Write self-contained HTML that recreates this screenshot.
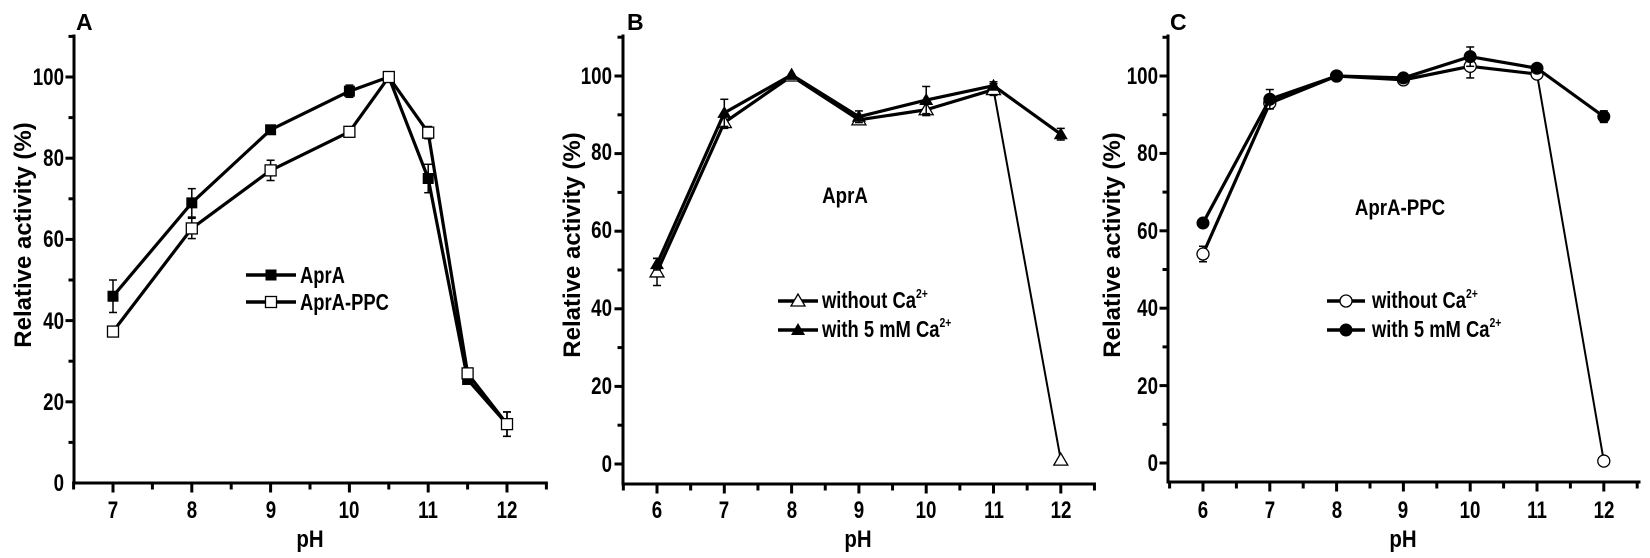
<!DOCTYPE html>
<html><head><meta charset="utf-8"><style>
html,body{margin:0;padding:0;background:#fff;}
svg{display:block;}
text{font-family:"Liberation Sans",sans-serif;font-weight:bold;fill:#000;}
.t{font-size:24px;}
.lab{font-size:24px;}
.leg{font-size:23px;}
</style></head><body>
<svg id="s" width="1650" height="558" viewBox="0 0 1650 558" xmlns="http://www.w3.org/2000/svg">
<text x="76" y="30" font-size="23">A</text>
<text x="627" y="30" font-size="23">B</text>
<text x="1170" y="30" font-size="23">C</text>

<g class="t" text-anchor="end">
<text transform="translate(64,491) scale(0.78,1)">0</text>
<text transform="translate(64,410) scale(0.78,1)">20</text>
<text transform="translate(64,329) scale(0.78,1)">40</text>
<text transform="translate(64,247) scale(0.78,1)">60</text>
<text transform="translate(64,166) scale(0.78,1)">80</text>
<text transform="translate(64,85) scale(0.78,1)">100</text>
</g>
<g class="t" text-anchor="middle">
<text transform="translate(113,518) scale(0.78,1)">7</text>
<text transform="translate(192,518) scale(0.78,1)">8</text>
<text transform="translate(271,518) scale(0.78,1)">9</text>
<text transform="translate(349,518) scale(0.78,1)">10</text>
<text transform="translate(428,518) scale(0.78,1)">11</text>
<text transform="translate(507,518) scale(0.78,1)">12</text>
</g>
<text class="lab" text-anchor="middle" transform="translate(310,547) scale(0.85,1)">pH</text>
<text class="lab" text-anchor="middle" transform="translate(31,235) rotate(-90)">Relative activity (%)</text>
<text class="leg" transform="translate(300,283) scale(0.8,1)">AprA</text>
<text class="leg" transform="translate(300,310) scale(0.8,1)">AprA-PPC</text>

<g class="t" text-anchor="end">
<text transform="translate(612,472) scale(0.78,1)">0</text>
<text transform="translate(612,394) scale(0.78,1)">20</text>
<text transform="translate(612,316) scale(0.78,1)">40</text>
<text transform="translate(612,238) scale(0.78,1)">60</text>
<text transform="translate(612,160) scale(0.78,1)">80</text>
<text transform="translate(612,84) scale(0.78,1)">100</text>
</g>
<g class="t" text-anchor="middle">
<text transform="translate(657,518) scale(0.78,1)">6</text>
<text transform="translate(724,518) scale(0.78,1)">7</text>
<text transform="translate(792,518) scale(0.78,1)">8</text>
<text transform="translate(859,518) scale(0.78,1)">9</text>
<text transform="translate(926,518) scale(0.78,1)">10</text>
<text transform="translate(994,518) scale(0.78,1)">11</text>
<text transform="translate(1061,518) scale(0.78,1)">12</text>
</g>
<text class="lab" text-anchor="middle" transform="translate(858,547) scale(0.85,1)">pH</text>
<text class="lab" text-anchor="middle" transform="translate(580,245) rotate(-90)">Relative activity (%)</text>
<text font-size="22" text-anchor="middle" transform="translate(845,203) scale(0.85,1)">AprA</text>
<text class="leg" transform="translate(822,308) scale(0.8,1)">without Ca<tspan font-size="13" dy="-10">2+</tspan></text>
<text class="leg" transform="translate(822,337) scale(0.8,1)">with 5 mM Ca<tspan font-size="13" dy="-10">2+</tspan></text>

<g class="t" text-anchor="end">
<text transform="translate(1158,471) scale(0.78,1)">0</text>
<text transform="translate(1158,394) scale(0.78,1)">20</text>
<text transform="translate(1158,316) scale(0.78,1)">40</text>
<text transform="translate(1158,239) scale(0.78,1)">60</text>
<text transform="translate(1158,161) scale(0.78,1)">80</text>
<text transform="translate(1158,84) scale(0.78,1)">100</text>
</g>
<g class="t" text-anchor="middle">
<text transform="translate(1203,518) scale(0.78,1)">6</text>
<text transform="translate(1270,518) scale(0.78,1)">7</text>
<text transform="translate(1337,518) scale(0.78,1)">8</text>
<text transform="translate(1403,518) scale(0.78,1)">9</text>
<text transform="translate(1470,518) scale(0.78,1)">10</text>
<text transform="translate(1537,518) scale(0.78,1)">11</text>
<text transform="translate(1604,518) scale(0.78,1)">12</text>
</g>
<text class="lab" text-anchor="middle" transform="translate(1403,547) scale(0.85,1)">pH</text>
<text class="lab" text-anchor="middle" transform="translate(1120,245) rotate(-90)">Relative activity (%)</text>
<text font-size="22" text-anchor="middle" transform="translate(1400,215) scale(0.85,1)">AprA-PPC</text>
<text class="leg" transform="translate(1372,308) scale(0.8,1)">without Ca<tspan font-size="13" dy="-10">2+</tspan></text>
<text class="leg" transform="translate(1372,337) scale(0.8,1)">with 5 mM Ca<tspan font-size="13" dy="-10">2+</tspan></text>
<g id="g"></g>
</svg>
<script>
const NS="http://www.w3.org/2000/svg";const G=document.getElementById('g');
function el(t,a){const e=document.createElementNS(NS,t);for(const k in a)e.setAttribute(k,a[k]);G.appendChild(e);return e;}
function line(x1,y1,x2,y2,w){el('line',{x1,y1,x2,y2,stroke:'#000','stroke-width':w||3,'stroke-linecap':'square'});}
function axes(P){
 line(P.ax,P.top,P.ax,P.bot,3);
 line(P.ax,P.bot,P.right,P.bot,3);
 for(let v=0;v<=110;v+=10){const y=P.Y(v);if(y>P.bot-1)continue;line(P.ax-(v%20==0?7:4),y,P.ax,y,3);}
 for(let x=P.xmin;x<=P.xmax+0.01;x+=0.5){const px=P.X(x);line(px,P.bot,px,P.bot+(Number.isInteger(x)?8:5),3);}
}
function marker(type,x,y){
 const s=5.5;
 if(type=='fs')el('rect',{x:x-s,y:y-s,width:2*s,height:2*s,fill:'#000'});
 if(type=='os')el('rect',{x:x-s,y:y-s,width:2*s,height:2*s,fill:'#fff',stroke:'#000','stroke-width':1.3});
 if(type=='ft')el('polygon',{points:`${x},${y-7} ${x-7},${y+5} ${x+7},${y+5}`,fill:'#000'});
 if(type=='ot')el('polygon',{points:`${x},${y-7} ${x-7},${y+5} ${x+7},${y+5}`,fill:'#fff',stroke:'#000','stroke-width':1.3});
 if(type=='fc')el('circle',{cx:x,cy:y,r:6.5,fill:'#000'});
 if(type=='oc')el('circle',{cx:x,cy:y,r:6,fill:'#fff',stroke:'#000','stroke-width':1.3});
}
function series(P,data,type,w){
 const pts=data.map(d=>[P.X(d[0]),P.Y(d[1])]);
 for(let i=0;i<pts.length-1;i++){
   const ww=(w&&w[i])||3.2;
   el('line',{x1:pts[i][0],y1:pts[i][1],x2:pts[i+1][0],y2:pts[i+1][1],stroke:'#000','stroke-width':ww});
 }
 data.forEach((d,i)=>{const e=d[2]||0;const [x,y]=pts[i];
   if(e){const y1=P.Y(d[1]+e),y2=P.Y(d[1]-e);
     el('line',{x1:x,y1:y1,x2:x,y2:y2,stroke:'#000','stroke-width':1.5});
     el('line',{x1:x-4,y1:y1,x2:x+4,y2:y1,stroke:'#000','stroke-width':1.5});
     el('line',{x1:x-4,y1:y2,x2:x+4,y2:y2,stroke:'#000','stroke-width':1.5});}
 });
 pts.forEach(p=>marker(type,p[0],p[1]));
}
function legend(x1,x2,y,type){el('line',{x1,y1:y,x2,y2:y,stroke:'#000','stroke-width':3.5});marker(type,(x1+x2)/2,y);}
const A={ax:74,top:36,bot:483,right:546,xmin:6.5,xmax:12.5,X:x=>113+(x-7)*78.8,Y:v=>483-v*4.06};
axes(A);
series(A,[[7,46,4],[8,69,3.5],[9,87],[10,96.5,1.5],[10.5,100],[11,75,3.5],[11.5,25.5],[12,14.5,3]],'fs');
series(A,[[7,37.3,1],[8,62.7,2.5],[9,77,2.5],[10,86.5,1],[10.5,100],[11,86.3,1.5],[11.5,27],[12,14.5,3]],'os');
legend(246,296,275,'fs');legend(246,296,302,'os');
const B={ax:623,top:36,bot:484,right:1094,xmin:5.5,xmax:12.5,X:x=>657+(x-6)*67.3,Y:v=>464-v*3.88};
axes(B);
series(B,[[6,49.5,3.5],[7,88,1.5],[8,100],[9,88.7,1],[10,91.3,1.5],[11,96.5,1.5],[12,1]],'ot',[3.2,3.2,3.2,3.2,3.2,2]);
series(B,[[6,51.5,1.5],[7,90.5,3.5],[8,100.3],[9,89.5,1.5],[10,93.8,3.5],[11,97.5,1],[12,85,1.5]],'ft');
legend(778,818,301,'ot');legend(778,818,330,'ft');
const C={ax:1168,top:36,bot:482,right:1639,xmin:5.5,xmax:12.5,X:x=>1203+(x-6)*66.8,Y:v=>463-v*3.87};
axes(C);
series(C,[[6,54,2],[7,93,1.5],[8,100],[9,99],[10,102.5,3],[11,100.5,1],[12,0.5]],'oc',[3.2,3.2,3.2,3.2,3.2,2]);
series(C,[[6,62],[7,94,2.5],[8,100],[9,99.5],[10,105,2.5],[11,102],[12,89.5,1.5]],'fc');
legend(1327,1365,301,'oc');legend(1327,1365,330,'fc');
</script>
</body></html>
